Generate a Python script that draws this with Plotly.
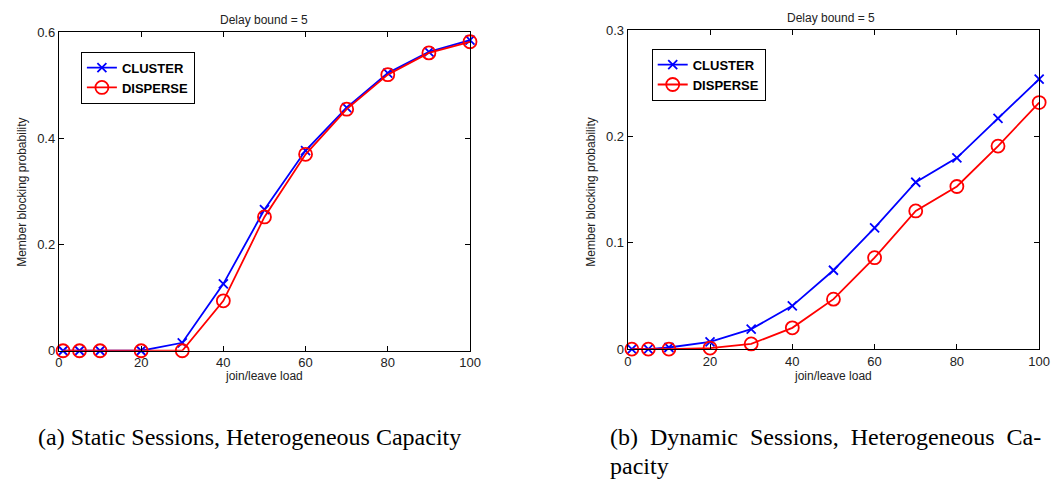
import plotly.graph_objects as go

W, H = 1061, 486

loads = [1, 5, 10, 20, 30, 40, 50, 60, 70, 80, 90, 100]

static_cluster = [0, 0, 0, 0, 0.015, 0.126, 0.266, 0.377, 0.458, 0.523, 0.563, 0.585]
static_disperse = [0, 0, 0, 0, 0, 0.094, 0.252, 0.370, 0.455, 0.520, 0.561, 0.582]

dynamic_cluster = [0, 0, 0.0015, 0.0067, 0.0188, 0.0407, 0.0742, 0.114, 0.157, 0.180, 0.217, 0.254]
dynamic_disperse = [0, 0, 0, 0.001, 0.0049, 0.020, 0.047, 0.086, 0.130, 0.153, 0.191, 0.232]

x_ticks = [0, 20, 40, 60, 80, 100]
left_y_ticks = [0, 0.2, 0.4, 0.6]
left_y_labels = ["0", "0.2", "0.4", "0.6"]
right_y_ticks = [0, 0.1, 0.2, 0.3]
right_y_labels = ["0", "0.1", "0.2", "0.3"]

title_text = "Delay bound = 5"
x_title = "join/leave load"
y_title = "Member blocking probability"
NB = "\u00a0"
caption_a = "(a) Static Sessions, Heterogeneous Capacity"
caption_b1 = "(b)" + NB + " Dynamic" + NB + " Sessions," + NB + " Heterogeneous" + NB + " Ca-"
caption_b2 = "pacity"

SANS = "Liberation Sans, Arial, sans-serif"
SERIF = "Liberation Serif, DejaVu Serif, serif"
BLUE = "#0000ff"
RED = "#ff0000"

def px(x):
    return x / W

def py(y):
    return 1 - y / H

fig = go.Figure()

cluster_marker = dict(symbol="x-thin", size=9, line=dict(color=BLUE, width=1.8), color=BLUE)
disperse_marker = dict(symbol="circle-open", size=13, line=dict(color=RED, width=1.8), color=RED)

for xa, ya, c, d, leg in [("x", "y", static_cluster, static_disperse, "legend"),
                          ("x2", "y2", dynamic_cluster, dynamic_disperse, "legend2")]:
    fig.add_trace(go.Scatter(x=loads, y=c, mode="lines+markers", name="CLUSTER",
                             line=dict(color=BLUE, width=1.8), marker=cluster_marker,
                             xaxis=xa, yaxis=ya, legend=leg, cliponaxis=False))
    fig.add_trace(go.Scatter(x=loads, y=d, mode="lines+markers", name="DISPERSE",
                             line=dict(color=RED, width=1.8), marker=disperse_marker,
                             xaxis=xa, yaxis=ya, legend=leg, cliponaxis=False))

axis_common = dict(showgrid=False, zeroline=False, showline=True, mirror="allticks",
                   linecolor="black", linewidth=1.2, ticks="inside", ticklen=5,
                   tickcolor="black", tickfont=dict(family=SANS, size=13, color="#222"))

legend_font = dict(family=SANS, size=13, color="black", weight="bold")

fig.update_layout(
    width=W, height=H,
    margin=dict(l=0, r=0, t=0, b=0),
    paper_bgcolor="white", plot_bgcolor="white",
    showlegend=True,
    xaxis=dict(domain=[px(55.7), px(472.7)], range=[0, 100], tickvals=x_ticks,
               anchor="y", **axis_common),
    yaxis=dict(domain=[py(354.7), py(26)], range=[0, 0.6], tickvals=left_y_ticks,
               ticktext=left_y_labels, anchor="x", **axis_common),
    xaxis2=dict(domain=[px(632.7), px(1050)], range=[0, 100], tickvals=x_ticks,
                anchor="y2", **axis_common),
    yaxis2=dict(domain=[py(353), py(24)], range=[0, 0.3], tickvals=right_y_ticks,
                ticktext=right_y_labels, anchor="x2", **axis_common),
    legend=dict(x=px(78), y=py(46), xanchor="left", yanchor="top",
                bordercolor="black", borderwidth=1, bgcolor="white",
                font=legend_font, tracegroupgap=0, itemwidth=30),
    legend2=dict(x=px(657), y=py(43), xanchor="left", yanchor="top",
                 bordercolor="black", borderwidth=1, bgcolor="white",
                 font=legend_font, tracegroupgap=0, itemwidth=30),
)

ann = []
def add(text, x, y, size, family=SANS, angle=0, xanchor="center", color="#222"):
    ann.append(dict(text=text, x=px(x), y=py(y), xref="paper", yref="paper",
                    showarrow=False, xanchor=xanchor, yanchor="middle", textangle=angle,
                    font=dict(family=family, size=size, color=color)))

add(title_text, 264, 13, 12)
add(title_text, 839, 11, 12)
add(x_title, 264, 381, 12)
add(x_title, 841, 381, 12)
add(y_title, 18, 191, 12, angle=-90)
add(y_title, 596, 191, 12, angle=-90)
add(caption_a, 32, 444, 24, family=SERIF, xanchor="left", color="black")
add(caption_b1, 613, 444, 24, family=SERIF, xanchor="left", color="black")
add(caption_b2, 613, 474, 24, family=SERIF, xanchor="left", color="black")
fig.update_layout(annotations=ann)

fig.write_html("out.html",
               config={"displayModeBar": False},
               post_script="document.body.style.margin='0';document.body.style.padding='0';document.body.style.overflow='hidden';")
